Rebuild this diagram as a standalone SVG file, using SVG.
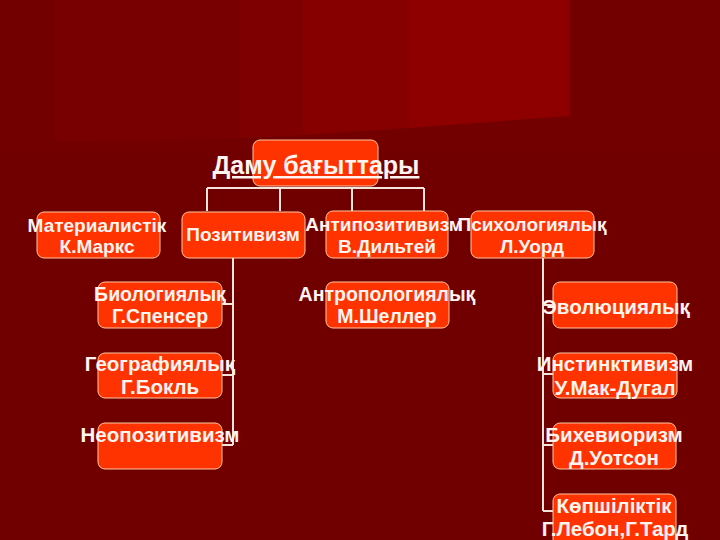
<svg xmlns="http://www.w3.org/2000/svg" width="720" height="540" viewBox="0 0 720 540">
<style>
.box{fill:#FF3300;stroke:#FFC8A0;stroke-width:1}
.t{font-family:"Liberation Sans",Arial,sans-serif;font-weight:bold;fill:#FFF4F0;text-anchor:middle}
.s18{font-size:19px}.s19{font-size:19.5px}.s20{font-size:20.5px}
.ln{stroke:#F4E4DC;stroke-width:2;fill:none}
</style>
<rect x="0" y="0" width="720" height="540" fill="#700000"/>
<g id="background">
<polygon points="0,0 720,0 720,150 0,150" fill="#730000"/>
<polygon points="55,0 240,0 240,138 55,142" fill="#790000"/>
<polygon points="240,0 303,0 303,135 240,138" fill="#7F0000"/>
<polygon points="303,0 409,0 409,128 303,135" fill="#860000"/>
<polygon points="409,0 569,0 569,116 409,128" fill="#8E0000"/>
</g>
<g id="connectors" class="ln">
<path d="M207,188 H424 M207,188 V211 M280,188 V211 M352,188 V211 M424,188 V211"/>
<path d="M233,258 V445 M222,304 H233 M222,375 H233 M222,445 H233"/>
<path d="M543,258 V511 M543,305 H553 M543,374 H553 M543,445 H553 M543,511 H553"/>
</g>
<g id="root">
<rect class="box" x="253" y="140" width="125" height="46" rx="7"/>
<text class="t" x="316" y="174" font-size="25" text-decoration="underline">Даму бағыттары</text>
</g>
<g id="materialistik">
<rect class="box" x="37" y="212" width="123" height="46" rx="7"/>
<text class="t s18" x="97" y="232">Материалистік</text>
<text class="t s18" x="97" y="253">К.Маркс</text>
</g>
<g id="pozitivizm">
<rect class="box" x="182" y="212" width="123" height="46" rx="7"/>
<text class="t s18" x="243" y="241">Позитивизм</text>
</g>
<g id="antipozitivizm">
<rect class="box" x="326" y="211" width="122" height="47" rx="7"/>
<text class="t s18" x="384" y="231">Антипозитивизм</text>
<text class="t s18" x="387" y="253">В.Дильтей</text>
</g>
<g id="psihologiyalyk">
<rect class="box" x="471" y="211" width="123" height="47" rx="7"/>
<text class="t s18" x="532" y="231">Психологиялық</text>
<text class="t s18" x="532" y="253">Л.Уорд</text>
</g>
<g id="biologiyalyk">
<rect class="box" x="98" y="282" width="124" height="46" rx="7"/>
<text class="t s19" x="160" y="301">Биологиялық</text>
<text class="t s19" x="160" y="323">Г.Спенсер</text>
</g>
<g id="antropologiyalyk">
<rect class="box" x="326" y="282" width="123" height="46" rx="7"/>
<text class="t s19" x="387" y="301">Антропологиялық</text>
<text class="t s19" x="387" y="323">М.Шеллер</text>
</g>
<g id="evolyutsiyalyk">
<rect class="box" x="553" y="282" width="124" height="46" rx="7"/>
<text class="t s20" x="616" y="314">Эволюциялық</text>
</g>
<g id="geografiyalyk">
<rect class="box" x="98" y="353" width="124" height="45" rx="7"/>
<text class="t s20" x="160" y="371">Географиялық</text>
<text class="t s20" x="160" y="394">Г.Бокль</text>
</g>
<g id="instinktivizm">
<rect class="box" x="553" y="353" width="124" height="45" rx="7"/>
<text class="t s20" x="615" y="371">Инстинктивизм</text>
<text class="t s20" x="615" y="395">У.Мак-Дугал</text>
</g>
<g id="neopozitivizm">
<rect class="box" x="98" y="423" width="124" height="46" rx="7"/>
<text class="t s20" x="160" y="442">Неопозитивизм</text>
</g>
<g id="bihevviorizm">
<rect class="box" x="553" y="423" width="123" height="46" rx="7"/>
<text class="t s20" x="614" y="442">Бихевиоризм</text>
<text class="t s20" x="614" y="465">Д.Уотсон</text>
</g>
<g id="kopshiliktik">
<rect class="box" x="553" y="494" width="123" height="52" rx="7"/>
<text class="t s20" x="614" y="513">Көпшіліктік</text>
<text class="t s20" x="615" y="536">Г.Лебон,Г.Тард</text>
</g>
</svg>
